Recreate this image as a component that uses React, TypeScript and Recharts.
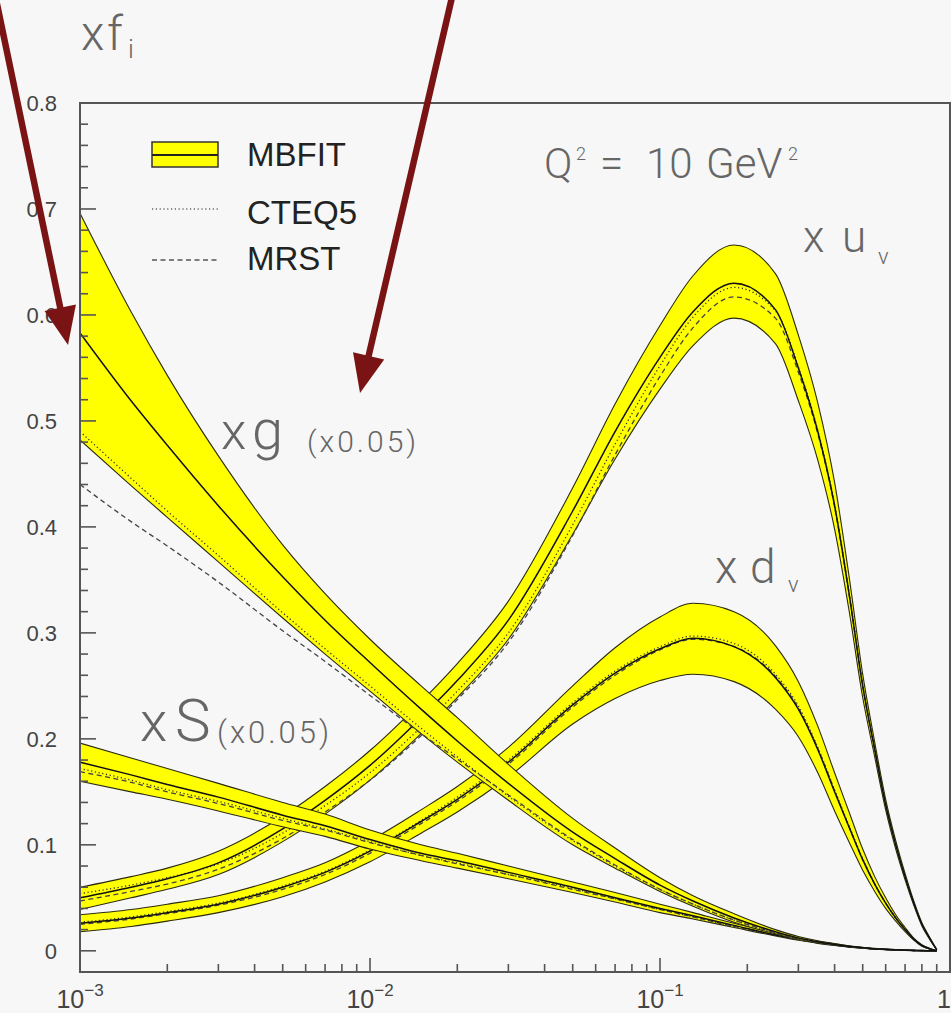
import React from 'react';
import { ComposedChart, Area, Line, XAxis, YAxis, ReferenceArea } from 'recharts';

// x grid (log scale)
const xValues = [0.001, 0.0015, 0.002, 0.003, 0.005, 0.007, 0.01, 0.015, 0.02, 0.03, 0.05, 0.07, 0.1, 0.13, 0.18, 0.25, 0.3, 0.35, 0.4, 0.45, 0.5, 0.55, 0.6, 0.65, 0.7, 0.75, 0.8, 0.85, 0.9];

// x u_v
const uvUpper = [0.060, 0.070, 0.078, 0.094, 0.127, 0.155, 0.189, 0.235, 0.271, 0.330, 0.437, 0.516, 0.590, 0.637, 0.666, 0.639, 0.581, 0.517, 0.442, 0.351, 0.261, 0.197, 0.143, 0.104, 0.073, 0.047, 0.0265, 0.013, 0.001];
const uvCenter = [0.050, 0.060, 0.068, 0.083, 0.115, 0.142, 0.175, 0.220, 0.255, 0.312, 0.415, 0.490, 0.560, 0.603, 0.630, 0.605, 0.550, 0.490, 0.420, 0.335, 0.250, 0.190, 0.138, 0.100, 0.070, 0.045, 0.025, 0.012, 0.001];
const uvLower = [0.039, 0.050, 0.058, 0.072, 0.103, 0.129, 0.161, 0.205, 0.239, 0.294, 0.393, 0.464, 0.530, 0.571, 0.597, 0.573, 0.519, 0.463, 0.398, 0.319, 0.239, 0.183, 0.133, 0.096, 0.067, 0.043, 0.0235, 0.011, 0.001];
const uvCteq = [0.054, 0.062, 0.069, 0.082, 0.111, 0.137, 0.168, 0.211, 0.245, 0.300, 0.402, 0.478, 0.552, 0.598, 0.626, 0.604, 0.551, 0.491, 0.421, 0.336, 0.251, 0.190, 0.138, 0.100, 0.070, 0.045, 0.025, 0.012, 0.001];
const uvMrst = [0.047, 0.056, 0.063, 0.077, 0.106, 0.131, 0.161, 0.203, 0.237, 0.291, 0.392, 0.468, 0.542, 0.588, 0.617, 0.597, 0.546, 0.488, 0.419, 0.334, 0.250, 0.190, 0.138, 0.100, 0.070, 0.045, 0.025, 0.012, 0.001];

// x d_v
const dvUpper = [0.034, 0.039, 0.044, 0.052, 0.069, 0.083, 0.104, 0.133, 0.155, 0.192, 0.250, 0.286, 0.315, 0.328, 0.320, 0.288, 0.254, 0.212, 0.168, 0.130, 0.096, 0.070, 0.050, 0.034, 0.022, 0.012, 0.0058, 0.0024, 0.0];
const dvCenter = [0.026, 0.031, 0.036, 0.044, 0.060, 0.074, 0.094, 0.122, 0.143, 0.178, 0.232, 0.262, 0.285, 0.295, 0.287, 0.258, 0.228, 0.190, 0.150, 0.116, 0.086, 0.063, 0.045, 0.031, 0.020, 0.011, 0.005, 0.002, 0.0];
const dvLower = [0.018, 0.023, 0.028, 0.036, 0.051, 0.065, 0.084, 0.111, 0.131, 0.164, 0.214, 0.238, 0.255, 0.261, 0.254, 0.228, 0.202, 0.168, 0.132, 0.102, 0.076, 0.056, 0.040, 0.028, 0.018, 0.010, 0.0042, 0.0016, 0.0];
const dvCteq = [0.027, 0.032, 0.037, 0.045, 0.061, 0.075, 0.095, 0.123, 0.145, 0.180, 0.234, 0.264, 0.287, 0.297, 0.290, 0.261, 0.231, 0.192, 0.152, 0.117, 0.087, 0.063, 0.045, 0.031, 0.020, 0.011, 0.005, 0.002, 0.0];
const dvMrst = [0.025, 0.030, 0.035, 0.043, 0.058, 0.072, 0.092, 0.120, 0.141, 0.176, 0.230, 0.260, 0.284, 0.294, 0.287, 0.259, 0.229, 0.191, 0.151, 0.116, 0.086, 0.063, 0.045, 0.031, 0.020, 0.011, 0.005, 0.002, 0.0];

// x S (x0.05)
const sUpper = [0.196, 0.182, 0.172, 0.158, 0.140, 0.129, 0.114, 0.100, 0.092, 0.080, 0.065, 0.055, 0.044, 0.036, 0.026, 0.017, 0.012, 0.009, 0.0065, 0.0045, 0.003, 0.002, 0.0013, 0.0009, 0.0006, 0.0004, 0.0002, 0.0001, 0];
const sCenter = [0.178, 0.166, 0.157, 0.145, 0.128, 0.118, 0.105, 0.092, 0.085, 0.074, 0.060, 0.050, 0.040, 0.033, 0.024, 0.015, 0.011, 0.008, 0.0058, 0.004, 0.0027, 0.0018, 0.0012, 0.0008, 0.0005, 0.0003, 0.0002, 0.0001, 0];
const sLower = [0.160, 0.150, 0.143, 0.132, 0.117, 0.108, 0.096, 0.085, 0.078, 0.068, 0.055, 0.046, 0.036, 0.030, 0.022, 0.014, 0.010, 0.007, 0.005, 0.0035, 0.0024, 0.0016, 0.0011, 0.0007, 0.0004, 0.0002, 0.0001, 0, 0];
const sCteq = [0.172, 0.161, 0.152, 0.141, 0.125, 0.115, 0.103, 0.090, 0.083, 0.072, 0.059, 0.049, 0.039, 0.032, 0.023, 0.015, 0.011, 0.008, 0.0058, 0.004, 0.0027, 0.0018, 0.0012, 0.0008, 0.0005, 0.0003, 0.0002, 0.0001, 0];
const sMrst = [0.169, 0.159, 0.150, 0.139, 0.123, 0.114, 0.102, 0.090, 0.082, 0.072, 0.058, 0.049, 0.039, 0.032, 0.023, 0.015, 0.011, 0.008, 0.0058, 0.004, 0.0027, 0.0018, 0.0012, 0.0008, 0.0005, 0.0003, 0.0002, 0.0001, 0];

// x g (x0.05)
const gUpper = [0.696, 0.603, 0.543, 0.467, 0.383, 0.337, 0.294, 0.250, 0.220, 0.176, 0.125, 0.097, 0.069, 0.052, 0.035, 0.020, 0.0135, 0.0095, 0.0068, 0.0045, 0.0034, 0.0023, 0.0017, 0.0011, 0.0007, 0.0004, 0.0002, 0.0001, 0];
const gCenter = [0.583, 0.519, 0.477, 0.420, 0.353, 0.312, 0.272, 0.228, 0.198, 0.158, 0.112, 0.087, 0.062, 0.047, 0.031, 0.018, 0.012, 0.0085, 0.006, 0.004, 0.003, 0.002, 0.0015, 0.001, 0.0006, 0.0004, 0.0002, 0.0001, 0];
const gLower = [0.482, 0.439, 0.409, 0.367, 0.314, 0.280, 0.245, 0.205, 0.178, 0.142, 0.100, 0.078, 0.056, 0.042, 0.027, 0.016, 0.0105, 0.0075, 0.0052, 0.0035, 0.0026, 0.0017, 0.0013, 0.0009, 0.0005, 0.0003, 0.0002, 0.0001, 0];
const gCteq = [0.490, 0.446, 0.415, 0.373, 0.319, 0.285, 0.250, 0.210, 0.183, 0.146, 0.104, 0.080, 0.058, 0.044, 0.029, 0.017, 0.011, 0.008, 0.0055, 0.0037, 0.0027, 0.0018, 0.0014, 0.0009, 0.0005, 0.0003, 0.0002, 0.0001, 0];
const gMrst = [0.440, 0.405, 0.382, 0.348, 0.302, 0.273, 0.241, 0.205, 0.181, 0.147, 0.105, 0.081, 0.058, 0.044, 0.029, 0.017, 0.011, 0.008, 0.0055, 0.0037, 0.0027, 0.0018, 0.0014, 0.0009, 0.0005, 0.0003, 0.0002, 0.0001, 0];

// axis ticks
const xMajorTicks = [0.001, 0.01, 0.1, 1];
const xMinorTicks = [0.002, 0.003, 0.004, 0.005, 0.006, 0.007, 0.008, 0.009, 0.02, 0.03, 0.04, 0.05, 0.06, 0.07, 0.08, 0.09, 0.2, 0.3, 0.4, 0.5, 0.6, 0.7, 0.8, 0.9];
const xTickLabels = ['−3', '−2', '−1', ''];
const yMajorTicks = [0, 0.1, 0.2, 0.3, 0.4, 0.5, 0.6, 0.7, 0.8];
const yMinorTicks = [0.02, 0.04, 0.06, 0.08, 0.12, 0.14, 0.16, 0.18, 0.22, 0.24, 0.26, 0.28, 0.32, 0.34, 0.36, 0.38, 0.42, 0.44, 0.46, 0.48, 0.52, 0.54, 0.56, 0.58, 0.62, 0.64, 0.66, 0.68, 0.72, 0.74, 0.76, 0.78];
const yTickLabels = ['0', '0.1', '0.2', '0.3', '0.4', '0.5', '0.6', '0.7', '0.8'];

const rows = xValues.map((x, i) => ({
  x,
  uvBand: [uvLower[i], uvUpper[i]], uv: uvCenter[i], uvCteq: uvCteq[i], uvMrst: uvMrst[i],
  dvBand: [dvLower[i], dvUpper[i]], dv: dvCenter[i], dvCteq: dvCteq[i], dvMrst: dvMrst[i],
  sBand: [sLower[i], sUpper[i]], s: sCenter[i], sCteq: sCteq[i], sMrst: sMrst[i],
  gBand: [gLower[i], gUpper[i]], g: gCenter[i], gCteq: gCteq[i], gMrst: gMrst[i],
}));

// drawing order: later ones cover earlier ones
const pdfKeys = ['uv', 'dv', 's', 'g'];

const AXIS = '#555';
const TEXT = '#666';
const ARROW = '#7a1414';

const XTick = (props: any) => {
  const { x, y, payload } = props;
  const idx = xMajorTicks.findIndex((t) => Math.abs(t - payload.value) < 1e-9);
  const major = idx >= 0;
  const last = payload.value === 1;
  return (
    <g>
      <line x1={x} x2={x} y1={y} y2={y - (major ? 14 : 8)} stroke={AXIS} strokeWidth={1.6} />
      {major && (
        <text x={last ? x + 1 : x} y={y + 36} textAnchor={last ? 'end' : 'middle'} fill="#444" fontSize={25} fontFamily="'Liberation Sans', Arial, sans-serif">
          {last ? '1' : '10'}
          {xTickLabels[idx] && <tspan dy={-12} fontSize={17}>{xTickLabels[idx]}</tspan>}
        </text>
      )}
    </g>
  );
};

const YTick = (props: any) => {
  const { x, y, payload } = props;
  const idx = yMajorTicks.findIndex((t) => Math.abs(t - payload.value) < 1e-9);
  const major = idx >= 0;
  return (
    <g>
      <line x1={x} x2={x + (major ? 16 : 8)} y1={y} y2={y} stroke={AXIS} strokeWidth={1.6} />
      {major && (
        <text x={x - 23} y={y + 8} textAnchor="end" fill="#444" fontSize={22} fontFamily="'Liberation Sans', Arial, sans-serif">
          {yTickLabels[idx]}
        </text>
      )}
    </g>
  );
};

function Arrow({ x1, y1, x2, y2 }: { x1: number; y1: number; x2: number; y2: number }) {
  const dx = x2 - x1;
  const dy = y2 - y1;
  const len = Math.hypot(dx, dy);
  const ux = dx / len;
  const uy = dy / len;
  const head = 38;
  const hw = 16;
  const bx = x2 - ux * head;
  const by = y2 - uy * head;
  return (
    <g>
      <line x1={x1} y1={y1} x2={bx + ux * 4} y2={by + uy * 4} stroke={ARROW} strokeWidth={6.5} />
      <polygon points={`${x2},${y2} ${bx - uy * hw},${by + ux * hw} ${bx + uy * hw},${by - ux * hw}`} fill={ARROW} />
    </g>
  );
}

export default function App() {
  const light = { fill: TEXT, fontFamily: 'Roboto, sans-serif', fontWeight: 300 } as const;
  const sans = { fill: '#222', fontFamily: "'Liberation Sans', Arial, sans-serif" } as const;

  return (
    <div style={{ position: 'absolute', left: 0, top: 0, width: 951, height: 1013, background: '#f7f7f7', overflow: 'hidden' }}>
      <ComposedChart width={951} height={1013} data={rows} margin={{ top: 103, right: 1, bottom: 11, left: 20 }}>
        <XAxis
          dataKey="x"
          type="number"
          scale="log"
          domain={[0.001, 1]}
          allowDataOverflow
          ticks={[...xMajorTicks, ...xMinorTicks]}
          interval={0}
          height={30}
          tickSize={0}
          tickMargin={0}
          tick={<XTick />}
          axisLine={{ stroke: AXIS, strokeWidth: 2 }}
        />
        <YAxis
          type="number"
          domain={[-0.02, 0.8]}
          allowDataOverflow
          ticks={[...yMajorTicks, ...yMinorTicks]}
          interval={0}
          width={60}
          tickSize={0}
          tickMargin={0}
          tick={<YTick />}
          axisLine={{ stroke: AXIS, strokeWidth: 2 }}
        />
        <ReferenceArea x1={0.001} x2={1} y1={-0.02} y2={0.8} fill="none" stroke={AXIS} strokeWidth={2} />
        {pdfKeys.flatMap((k, i) => [
          <Area
            key={`${k}-band`}
            dataKey={`${k}Band`}
            type="monotone"
            fill="#ffff00"
            fillOpacity={1}
            stroke="#2b2b10"
            strokeWidth={1.1}
            dot={false}
            activeDot={false}
            isAnimationActive={false}
            zIndex={100 + i * 10}
          />,
          <Line
            key={`${k}-cteq`}
            dataKey={`${k}Cteq`}
            type="monotone"
            stroke="#333"
            strokeWidth={1.3}
            strokeDasharray="1.2 2.6"
            dot={false}
            activeDot={false}
            isAnimationActive={false}
            zIndex={101 + i * 10}
          />,
          <Line
            key={`${k}-mrst`}
            dataKey={`${k}Mrst`}
            type="monotone"
            stroke="#444"
            strokeWidth={1.3}
            strokeDasharray="5 3.5"
            dot={false}
            activeDot={false}
            isAnimationActive={false}
            zIndex={102 + i * 10}
          />,
          <Line
            key={`${k}-fit`}
            dataKey={k}
            type="monotone"
            stroke="#111"
            strokeWidth={1.5}
            dot={false}
            activeDot={false}
            isAnimationActive={false}
            zIndex={103 + i * 10}
          />,
        ])}
      </ComposedChart>

      <svg width={951} height={1013} style={{ position: 'absolute', left: 0, top: 0, pointerEvents: 'none' }}>
        {/* axis title */}
        <text y={50} fontSize={48} {...light}>
          <tspan x={81}>x</tspan>
          <tspan x={107}>f</tspan>
          <tspan x={128} y={58} fontSize={26}>i</tspan>
        </text>

        {/* legend */}
        <rect x={152} y={142} width={66} height={25} fill="#ffff00" stroke="#333" strokeWidth={1.5} />
        <line x1={152} x2={218} y1={155} y2={155} stroke="#222" strokeWidth={2} />
        <text x={247} y={166} fontSize={33} {...sans}>MBFIT</text>
        <line x1={152} x2={218} y1={209} y2={209} stroke="#666" strokeWidth={1.3} strokeDasharray="1.2 2.6" />
        <text x={247} y={224} fontSize={33} {...sans}>CTEQ5</text>
        <line x1={152} x2={218} y1={260} y2={260} stroke="#555" strokeWidth={1.3} strokeDasharray="5 3.5" />
        <text x={247} y={270} fontSize={33} {...sans}>MRST</text>

        {/* scale */}
        <text y={178} fontSize={42} {...light}>
          <tspan x={544}>Q</tspan>
          <tspan x={576} y={160} fontSize={18}>2</tspan>
          <tspan x={600} y={178}>=</tspan>
          <tspan x={646} y={178}>10</tspan>
          <tspan x={706} y={178}>GeV</tspan>
          <tspan x={788} y={160} fontSize={18}>2</tspan>
        </text>

        {/* curve labels */}
        <text y={252} fontSize={44} {...light}>
          <tspan x={803}>x</tspan>
          <tspan x={842}>u</tspan>
          <tspan x={878} y={264} fontSize={22}>v</tspan>
        </text>
        <text y={583} fontSize={46} {...light}>
          <tspan x={715}>x</tspan>
          <tspan x={750}>d</tspan>
          <tspan x={788} y={592} fontSize={22}>v</tspan>
        </text>
        <text y={449} fontSize={52} {...light}>
          <tspan x={221}>x</tspan>
          <tspan x={252} fontSize={56}>g</tspan>
        </text>
        <text x={307} y={452} fontSize={30} letterSpacing={3} {...light}>(x0.05)</text>
        <text y={741} fontSize={56} {...light}>
          <tspan x={140}>x</tspan>
          <tspan x={175} fontSize={60}>S</tspan>
        </text>
        <text x={217} y={743} fontSize={31} letterSpacing={3} {...light}>(x0.05)</text>

        {/* annotation arrows */}
        <Arrow x1={-8} y1={-20} x2={68} y2={345} />
        <Arrow x1={456} y1={-20} x2={360} y2={393} />
      </svg>
    </div>
  );
}
